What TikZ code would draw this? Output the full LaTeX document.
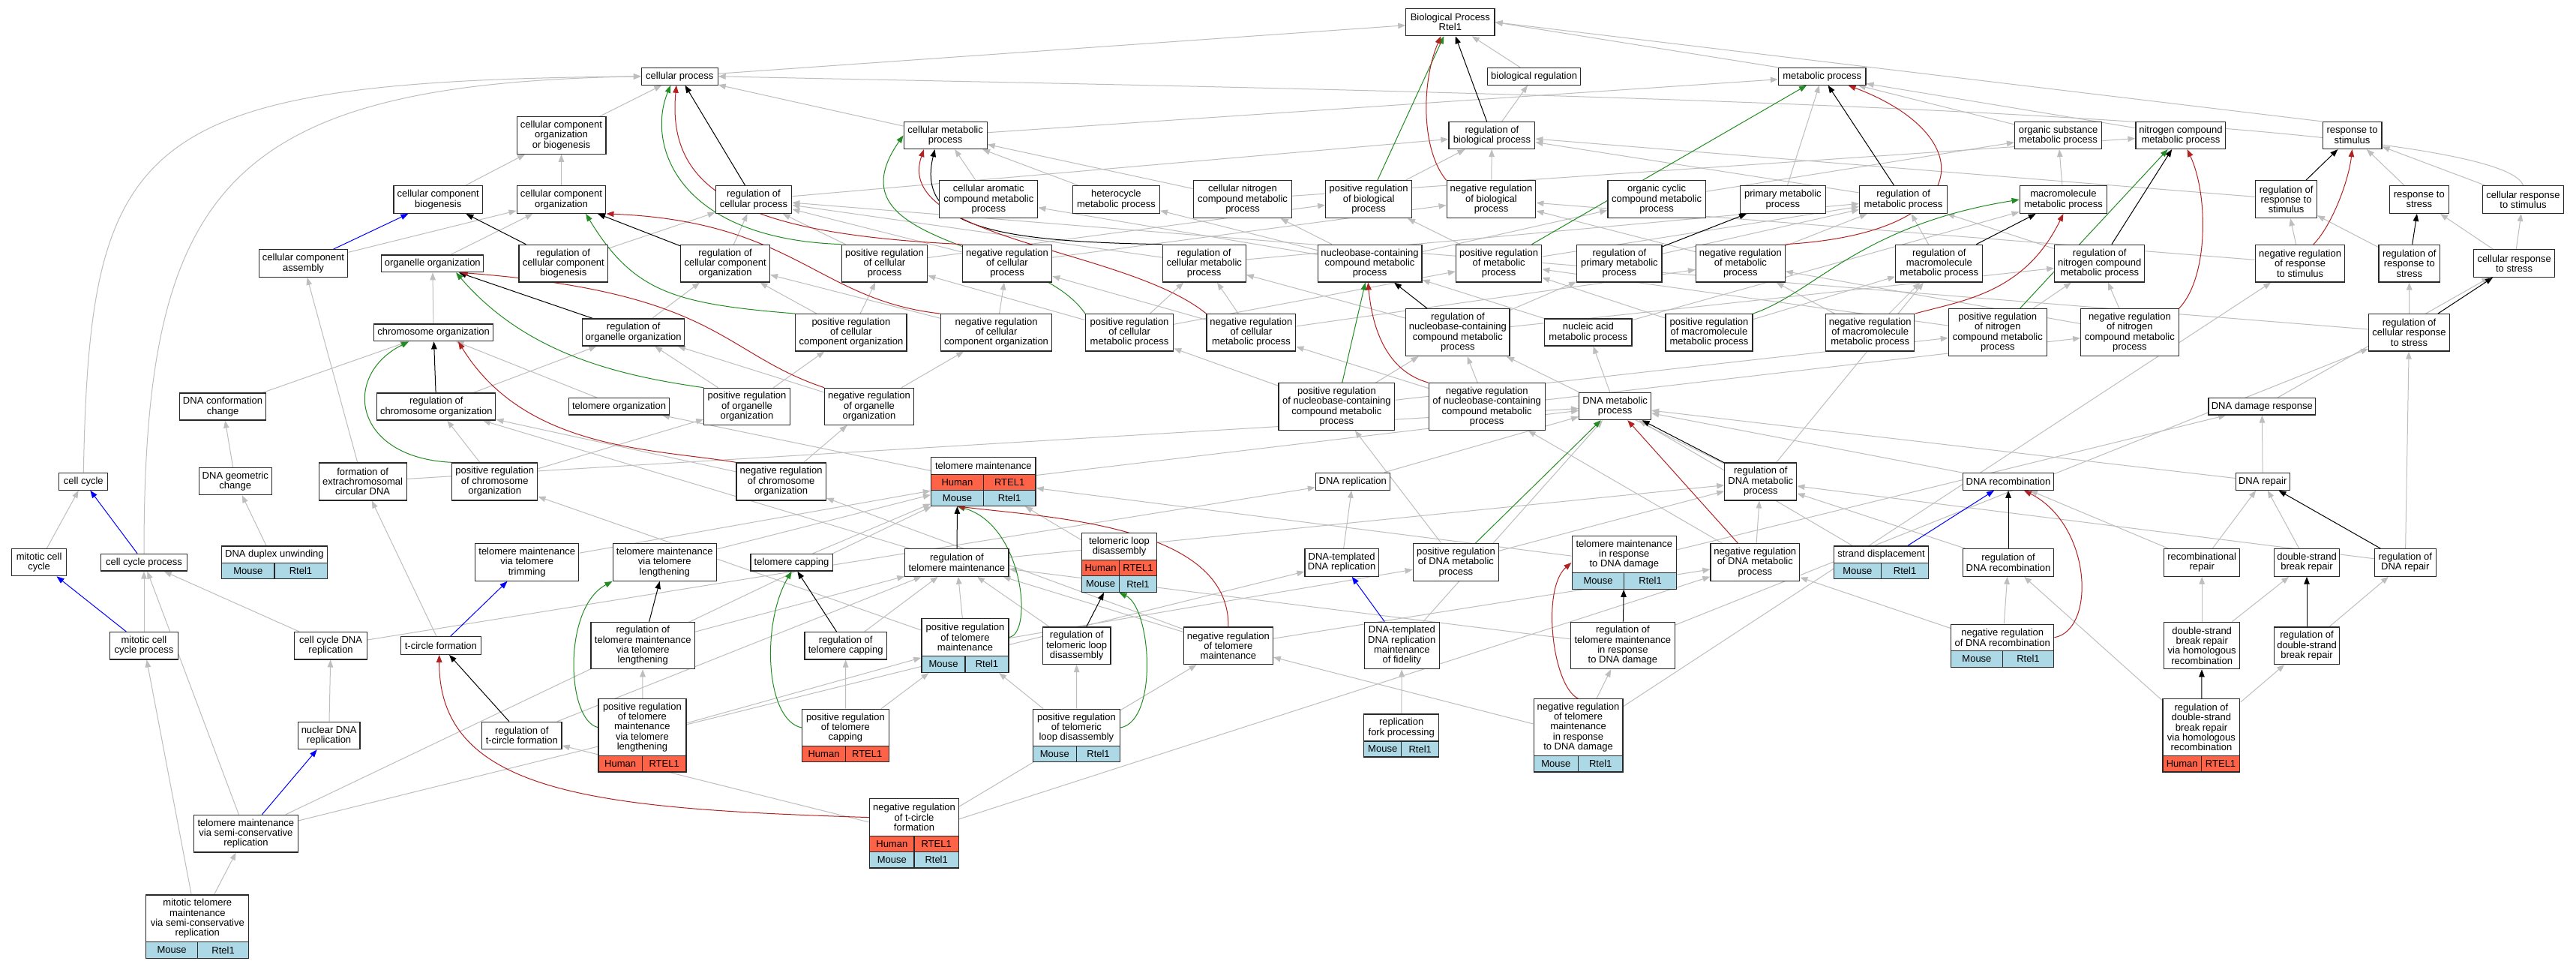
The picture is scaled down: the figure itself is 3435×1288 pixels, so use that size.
\documentclass[tikz,border=0pt]{standalone}
\usepackage{fontspec}
\setmainfont{Liberation Sans}
\usetikzlibrary{arrows.meta,fit,backgrounds}
\definecolor{egray}{RGB}{190,190,190}
\definecolor{egreen}{RGB}{34,139,34}
\definecolor{ered}{RGB}{178,34,34}
\definecolor{hcol}{RGB}{255,99,71}
\definecolor{mcol}{RGB}{173,216,230}
\definecolor{bord}{RGB}{40,40,40}
\newcommand\gfont{\fontsize{13}{13.3}\selectfont}
\newcommand\GN[6]{\node[gbox,minimum width=#4pt,minimum height=#5pt] (#1) at (#2,#3) {#6};}
\newcommand\TT[6]{\pgfmathsetmacro\myY{(#3+#4)/2}\pgfmathsetmacro\myH{#4-#3}\node[gbox,minimum width=#5pt,minimum height=\myH pt] (#1t) at (#2,\myY) {#6};}
\newcommand\RW[9]{\pgfmathsetmacro\myY{(#3+#4)/2}\pgfmathsetmacro\myH{#4-#3}\pgfmathsetmacro\myW{#5/2}\pgfmathsetmacro\myL{#2-#5/4}\pgfmathsetmacro\myR{#2+#5/4}%
\node[gcell,fill=#6,minimum width=\myW pt,minimum height=\myH pt] (#1#71) at (\myL,\myY) {#8};%
\node[gcell,fill=#6,minimum width=\myW pt,minimum height=\myH pt] (#1#72) at (\myR,\myY) {#9};}
\newcommand\HR[5]{\RW{#1}{#2}{#3}{#4}{#5}{hcol}{h}{Human}{RTEL1}}
\newcommand\MR[5]{\RW{#1}{#2}{#3}{#4}{#5}{mcol}{m}{Mouse}{Rtel1}}
\newcommand\FT[2]{\node[fit=(#1t)(#2),inner sep=0pt] (#1) {};}
\begin{document}
\begin{tikzpicture}[x=1pt,y=-1pt,
 gbox/.style={draw=bord,line width=1.2pt,fill=white,align=center,inner sep=0pt,font=\gfont},
 gcell/.style={draw=bord,line width=1.2pt,align=center,inner sep=0pt,font=\gfont},
 atip/.style={-{Triangle[length=10pt,width=7.5pt]}},
 eg/.style={draw=egray,line width=1pt,atip},
 ek/.style={draw=black,line width=1pt,atip},
 egn/.style={draw=egreen,line width=1pt,atip},
 er/.style={draw=ered,line width=1pt,atip},
 eb/.style={draw=blue,line width=1pt,atip}]
\useasboundingbox (0,0) rectangle (3435,1288);
% Row A-D
\GN{bp}{1933.9}{29.6}{118.2}{36.1}{Biological Process\\Rtel1}
\GN{cp}{906.3}{101.8}{101.6}{22.8}{cellular process}
\GN{br}{2045.6}{101.8}{124.3}{22.8}{biological regulation}
\GN{mp}{2429.7}{101.8}{116.5}{22.8}{metabolic process}
\GN{ccob}{748.5}{180.5}{118.8}{49.3}{cellular component\\organization\\or biogenesis}
\GN{cmp}{1260.6}{180.5}{111}{36}{cellular metabolic\\process}
\GN{rbp}{1989.4}{180.5}{114.9}{36}{regulation of\\biological process}
\GN{osmp}{2744.5}{180.5}{116}{36}{organic substance\\metabolic process}
\GN{ncmp}{2907.9}{180.5}{119.8}{36}{nitrogen compound\\metabolic process}
\GN{rs}{3136.5}{180.5}{78.8}{36}{response to\\stimulus}
\GN{ccb}{584.3}{266.1}{118.7}{36.5}{cellular component\\biogenesis}
\GN{cco}{748.5}{266.1}{118.7}{36.5}{cellular component\\organization}
\GN{rcp}{1005}{266.1}{101.5}{36.5}{regulation of\\cellular process}
\GN{cacmp}{1318.3}{265.7}{131}{49.8}{cellular aromatic\\compound metabolic\\process}
\GN{hmp}{1488.4}{266.1}{116}{36.5}{heterocycle\\metabolic process}
\GN{cncmp}{1657}{265.7}{130.4}{49.8}{cellular nitrogen\\compound metabolic\\process}
\GN{prbp}{1825.1}{265.7}{114.8}{49.8}{positive regulation\\of biological\\process}
\GN{nrbp}{1988.5}{265.7}{118.7}{49.8}{negative regulation\\of biological\\process}
\GN{occmp}{2209.1}{265.7}{130.4}{49.8}{organic cyclic\\compound metabolic\\process}
\GN{pmp}{2377.4}{266.1}{114.3}{36.5}{primary metabolic\\process}
\GN{rmp}{2538.1}{266.1}{117}{36.5}{regulation of\\metabolic process}
\GN{mmp}{2751.4}{266.1}{116.5}{36.5}{macromolecule\\metabolic process}
\GN{rrs}{3048.6}{265.7}{81.5}{49.8}{regulation of\\response to\\stimulus}
\GN{rstr}{3225.8}{266.1}{78.8}{36.5}{response to\\stress}
\GN{crs}{3364.5}{266.1}{107.6}{36.5}{cellular response\\to stimulus}
% Row E
\GN{cca}{404.5}{351.1}{118.7}{36.5}{cellular component\\assembly}
\GN{oo}{576.8}{351.3}{135.9}{22.8}{organelle organization}
\GN{rccb}{751.3}{351.1}{118.7}{49.7}{regulation of\\cellular component\\biogenesis}
\GN{rcco}{967.1}{351.1}{118.7}{49.7}{regulation of\\cellular component\\organization}
\GN{prcp}{1179.5}{351.1}{114.3}{49.7}{positive regulation\\of cellular\\process}
\GN{nrcp}{1343}{351.1}{119.3}{49.7}{negative regulation\\of cellular\\process}
\GN{rcmp}{1605.7}{351.1}{111}{49.7}{regulation of\\cellular metabolic\\process}
\GN{nbcmp}{1826.5}{351.1}{138.8}{49.7}{nucleobase-containing\\compound metabolic\\process}
\GN{prmp}{1998.6}{351.1}{114.3}{49.7}{positive regulation\\of metabolic\\process}
\GN{rpmp}{2159.4}{351.1}{113.2}{49.7}{regulation of\\primary metabolic\\process}
\GN{nrmp}{2320.9}{351.1}{118.7}{49.7}{negative regulation\\of metabolic\\process}
\GN{rmmp}{2585.8}{351.1}{116}{49.7}{regulation of\\macromolecule\\metabolic process}
\GN{rncmp}{2799.7}{351.1}{119.8}{49.7}{regulation of\\nitrogen compound\\metabolic process}
\GN{nrrs}{3067.1}{351.1}{118.7}{49.7}{negative regulation\\of response\\to stimulus}
\GN{rrstr}{3212.8}{351.1}{81.6}{49.7}{regulation of\\response to\\stress}
\GN{crstr}{3352.6}{351.1}{108.2}{36.5}{cellular response\\to stress}
% Row F
\GN{co}{578.1}{443.4}{158.7}{22.8}{chromosome organization}
\GN{roo}{844.7}{443}{135.9}{36}{regulation of\\organelle organization}
\GN{prcco}{1134.9}{443.3}{148.2}{49.3}{positive regulation\\of cellular\\component organization}
\GN{nrcco}{1328.6}{443.3}{148.1}{49.3}{negative regulation\\of cellular\\component organization}
\GN{prcmp}{1506.1}{443.3}{117}{49.3}{positive regulation\\of cellular\\metabolic process}
\GN{nrcmp}{1668.4}{443.3}{118.7}{49.3}{negative regulation\\of cellular\\metabolic process}
\GN{rnbcmp}{1943.9}{443.1}{138.1}{63}{regulation of\\nucleobase-containing\\compound metabolic\\process}
\GN{namp}{2117.8}{443}{116.5}{36}{nucleic acid\\metabolic process}
\GN{prmmp}{2279}{443.3}{116}{49.3}{positive regulation\\of macromolecule\\metabolic process}
\GN{nrmmp}{2493.7}{443.3}{118.2}{49.3}{negative regulation\\of macromolecule\\metabolic process}
\GN{prncmp}{2663.8}{443.1}{130.9}{63}{positive regulation\\of nitrogen\\compound metabolic\\process}
\GN{nrncmp}{2839.9}{443.1}{130.4}{63}{negative regulation\\of nitrogen\\compound metabolic\\process}
\GN{rcrstr}{3212.5}{443.3}{107.6}{49.3}{regulation of\\cellular response\\to stress}
% Row G
\GN{dcc}{297.1}{542}{114.8}{36}{DNA conformation\\change}
\GN{rco}{581.8}{542}{158.1}{36}{regulation of\\chromosome organization}
\GN{telo}{825.6}{541.8}{134.2}{22.4}{telomere organization}
\GN{proo}{996}{541.8}{114.3}{49}{positive regulation\\of organelle\\organization}
\GN{nroo}{1159}{541.8}{118.7}{49}{negative regulation\\of organelle\\organization}
\GN{prnbcmp}{1782.4}{542}{154.8}{62.6}{positive regulation\\of nucleobase-containing\\compound metabolic\\process}
\GN{nrnbcmp}{1982.7}{542}{154.8}{62.6}{negative regulation\\of nucleobase-containing\\compound metabolic\\process}
\GN{dmp}{2153.6}{541.6}{96}{36}{DNA metabolic\\process}
\GN{ddr}{3016.3}{541.8}{142.6}{22.4}{DNA damage response}
% Row H
\GN{cc}{111.3}{641.7}{65}{23}{cell cycle}
\GN{dgc}{313.8}{641.6}{97}{36}{DNA geometric\\change}
\GN{fecd}{483.6}{641.9}{117}{50}{formation of\\extrachromosomal\\circular DNA}
\GN{prco}{659.7}{641.9}{114.3}{50}{positive regulation\\of chromosome\\organization}
\GN{nrco}{1041.6}{641.9}{119.3}{50}{negative regulation\\of chromosome\\organization}
\TT{tm}{1311.3}{609.4}{632.2}{139.3}{telomere maintenance}\HR{tm}{1311.3}{632.2}{653.2}{139.3}\MR{tm}{1311.3}{653.2}{674.3}{139.3}\FT{tm}{tmm2}
\GN{drep}{1803.8}{641.7}{98.8}{23}{DNA replication}
\GN{rdmp}{2347.8}{641.9}{96}{50}{regulation of\\DNA metabolic\\process}
\GN{drec}{2678}{641.7}{121.5}{23}{DNA recombination}
\GN{drp}{3017.2}{641.7}{72.2}{23}{DNA repair}
% Row I
\GN{mcc}{52.1}{749.7}{73.3}{36}{mitotic cell\\cycle}
\GN{ccp}{192}{749.7}{114.3}{22.7}{cell cycle process}
\TT{ddu}{365.9}{728}{750.3}{140.4}{DNA duplex unwinding}\MR{ddu}{365.9}{750.3}{771.8}{140.4}\FT{ddu}{ddum2}
\GN{tmtt}{702.7}{749.5}{138.2}{49.6}{telomere maintenance\\via telomere\\trimming}
\GN{tmtl}{886.3}{749.5}{138.1}{49.6}{telomere maintenance\\via telomere\\lengthening}
\GN{tc}{1055.6}{749.7}{109.3}{22.7}{telomere capping}
\GN{rtm}{1275.9}{749.9}{138.1}{36.4}{regulation of\\telomere maintenance}
\TT{tld}{1492.5}{710.7}{746.6}{99.9}{telomeric loop\\disassembly}\HR{tld}{1492.5}{746.6}{767.7}{99.9}\MR{tld}{1492.5}{767.7}{789.2}{99.9}\FT{tld}{tldm2}
\GN{ddrep}{1789.1}{749.9}{98.2}{36.4}{DNA-templated\\DNA replication}
\GN{prdmp}{1941.4}{749.5}{114.3}{49.6}{positive regulation\\of DNA metabolic\\process}
\TT{tmrdd}{2165.8}{714.8}{763.2}{139.2}{telomere maintenance\\in response\\to DNA damage}\MR{tmrdd}{2165.8}{763.2}{785.1}{139.2}\FT{tmrdd}{tmrddm2}
\GN{nrdmp}{2340.3}{749.5}{118.7}{49.6}{negative regulation\\of DNA metabolic\\process}
\TT{sd}{2508.5}{728}{750.3}{126.5}{strand displacement}\MR{sd}{2508.5}{750.3}{771.8}{126.5}\FT{sd}{sdm2}
\GN{rdrec}{2678}{749.9}{121.5}{36.4}{regulation of\\DNA recombination}
\GN{rrep}{2936.2}{749.9}{101}{36.4}{recombinational\\repair}
\GN{dsbr}{3076}{749.9}{87.7}{36.4}{double-strand\\break repair}
\GN{rdrp}{3207.3}{749.9}{81.6}{36.4}{regulation of\\DNA repair}
% Row J
\GN{mccp}{192}{860.7}{91}{36.4}{mitotic cell\\cycle process}
\GN{ccdr}{441.1}{860.7}{96.6}{36.4}{cell cycle DNA\\replication}
\GN{tcf}{587.9}{860.5}{107.1}{23.5}{t-circle formation}
\GN{rtmtl}{857.3}{860.5}{138.7}{62.4}{regulation of\\telomere maintenance\\via telomere\\lengthening}
\GN{rtc}{1127.7}{860.7}{109.4}{36.4}{regulation of\\telomere capping}
\TT{prtm}{1287}{824.7}{874.3}{115.9}{positive regulation\\of telomere\\maintenance}\MR{prtm}{1287}{874.3}{896.2}{115.9}\FT{prtm}{prtmm2}
\GN{rtld}{1435.7}{860.7}{90.5}{49.6}{regulation of\\telomeric loop\\disassembly}
\GN{nrtm}{1637.9}{860.7}{118.7}{49.6}{negative regulation\\of telomere\\maintenance}
\GN{ddrmf}{1869.3}{860.5}{99.9}{62.4}{DNA-templated\\DNA replication\\maintenance\\of fidelity}
\GN{rtmrdd}{2163.9}{860.5}{138.7}{62.4}{regulation of\\telomere maintenance\\in response\\to DNA damage}
\TT{nrdrec}{2670.2}{832.2}{867.3}{137.1}{negative regulation\\of DNA recombination}\MR{nrdrec}{2670.2}{867.3}{889.2}{137.1}\FT{nrdrec}{nrdrecm2}
\GN{dsbhr}{2936.2}{860.5}{101}{62.4}{double-strand\\break repair\\via homologous\\recombination}
\GN{rdsbr}{3076}{860.7}{87.6}{49.6}{regulation of\\double-strand\\break repair}
% Row K
\GN{ndr}{438.6}{980.5}{82.6}{36.4}{nuclear DNA\\replication}
\GN{rtcf}{695.8}{980.5}{106.5}{36.4}{regulation of\\t-circle formation}
\TT{prtmtl}{856.4}{931.8}{1007.4}{117}{positive regulation\\of telomere\\maintenance\\via telomere\\lengthening}\HR{prtmtl}{856.4}{1007.4}{1028.9}{117}\FT{prtmtl}{prtmtlh2}
\TT{prtc}{1127.4}{945.4}{994.6}{115.4}{positive regulation\\of telomere\\capping}\HR{prtc}{1127.4}{994.6}{1015.6}{115.4}\FT{prtc}{prtch2}
\TT{prtld}{1435.4}{945.4}{994.6}{116.5}{positive regulation\\of telomeric\\loop disassembly}\MR{prtld}{1435.4}{994.6}{1015.6}{116.5}\FT{prtld}{prtldm2}
\TT{rfp}{1868.7}{952}{988}{99.9}{replication\\fork processing}\MR{rfp}{1868.7}{988}{1009}{99.9}\FT{rfp}{rfpm2}
\TT{nrtmrdd}{2104.5}{931.8}{1007.4}{118.8}{negative regulation\\of telomere\\maintenance\\in response\\to DNA damage}\MR{nrtmrdd}{2104.5}{1007.4}{1028.9}{118.8}\FT{nrtmrdd}{nrtmrddm2}
\TT{rdsbhr}{2935.4}{931.8}{1007.4}{102.7}{regulation of\\double-strand\\break repair\\via homologous\\recombination}\HR{rdsbhr}{2935.4}{1007.4}{1028.9}{102.7}\FT{rdsbhr}{rdsbhrh2}
% Row L, M
\GN{tmsc}{327.9}{1111.1}{138.7}{49.6}{telomere maintenance\\via semi-conservative\\replication}
\TT{nrtcf}{1219}{1064.8}{1114.4}{118.7}{negative regulation\\of t-circle\\formation}\HR{nrtcf}{1219}{1114.4}{1135.5}{118.7}\MR{nrtcf}{1219}{1135.5}{1157}{118.7}\FT{nrtcf}{nrtcfm2}
\TT{mtm}{263.3}{1192.9}{1255.8}{137.1}{mitotic telomere\\maintenance\\via semi-conservative\\replication}\MR{mtm}{263.3}{1255.8}{1277.2}{137.1}\FT{mtm}{mtmm2}

\begin{pgfonlayer}{background}
\fill[white] (0,0) rectangle (3435,1288);
% gray is_a edges
\foreach \a/\b in {cp/bp, br/bp, rbp/br, prbp/rbp, nrbp/rbp, ccob/cp, cmp/cp, cmp/mp, pmp/mp, osmp/mp, ncmp/mp,
 ccb/ccob, cco/ccob, cca/cco, oo/cco, rcp/rbp, rmp/rbp, rrs/rbp, prcp/rcp, prcp/prbp, nrcp/rcp, nrcp/nrbp,
 rcco/rcp, rccb/rcp, rcmp/rcp, rcmp/rmp, cacmp/cmp, hmp/cmp, cncmp/cmp, cncmp/ncmp, occmp/osmp, mmp/osmp,
 rpmp/rmp, rmmp/rmp, rncmp/rmp, prmp/rmp, nrmp/rmp, prmp/prbp, nrmp/nrbp, nrrs/rrs, nrrs/nrbp, rrstr/rrs,
 rstr/rs, crs/rs, crstr/rstr, crstr/crs, rcrstr/rrstr, rcrstr/rcp, co/oo, rco/roo, roo/rcco, telo/co, dcc/co,
 prco/rco, nrco/rco, prco/proo, nrco/nroo, proo/roo, nroo/roo, proo/prcco, nroo/nrcco, prcco/rcco, nrcco/rcco,
 prcco/prcp, nrcco/nrcp, prcmp/rcmp, nrcmp/rcmp, prcmp/prcp, nrcmp/nrcp, prcmp/prmp, nrcmp/nrmp,
 nbcmp/cacmp, nbcmp/hmp, nbcmp/occmp, nbcmp/cncmp, namp/nbcmp, namp/mmp, rnbcmp/rpmp, rnbcmp/rcmp,
 rnbcmp/rncmp, prnbcmp/rnbcmp, prnbcmp/prcmp, prnbcmp/prncmp, nrnbcmp/rnbcmp, nrnbcmp/nrcmp, nrnbcmp/nrncmp,
 prmmp/rmmp, prmmp/prmp, nrmmp/rmmp, nrmmp/nrmp, prncmp/rncmp, prncmp/prmp, nrncmp/rncmp, nrncmp/nrmp,
 dmp/namp, rdmp/rnbcmp, rdmp/rmmp, prdmp/rdmp, prdmp/prnbcmp, nrdmp/rdmp, nrdmp/nrnbcmp, drep/dmp,
 ddrep/drep, drec/dmp, drp/dmp, drp/ddr, ddr/crstr, tmrdd/tm, tmrdd/ddr, tm/telo, tm/dmp, rtm/rco, rtm/rdmp,
 prtm/rtm, prtm/prco, prtm/prdmp, nrtm/rtm, nrtm/nrco, nrtm/nrdmp, tmtt/tm, tmtl/tm, tc/tm, tld/tm,
 rtmtl/rtm, prtmtl/rtmtl, prtmtl/prtm, rtc/rtm, prtc/rtc, prtc/prtm, rtld/rtm, prtld/rtld, prtld/prtm,
 tcf/fecd, rtcf/rtm, nrtcf/rtcf, nrtcf/nrtm, nrtcf/nrdmp, ccdr/ccp, ccdr/drep, ndr/ccdr, tmsc/ccp, tmsc/tm,
 tmsc/ddrep, mtm/tmsc, mtm/mccp, mccp/ccp, mcc/cc, ddu/dgc, dgc/dcc, fecd/cca, fecd/dmp, rtmrdd/rtm, rtmrdd/rcrstr,
 nrtmrdd/rtmrdd, nrtmrdd/nrtm, nrtmrdd/nrrs, ddrmf/dmp, rfp/ddrmf, rdrec/rdmp, nrdrec/rdrec, nrdrec/nrdmp,
 sd/dmp, rrep/drp, rrep/drec, dsbr/drp, rdrp/rdmp, rdrp/rcrstr, dsbhr/rrep, dsbhr/dsbr, rdsbr/rdrp,
 rdsbhr/rdsbr, rdsbhr/rdrec}
 {\draw[eg] (\a) -- (\b);}
\draw[eg] (mp.north west) -- (bp.east);
\draw[eg] (rs.north west) -- (bp.east);
\draw[eg] (crs.north) .. controls (3330,140) and (1700,118) .. (cp.east);
\draw[eg] (cc.north) .. controls (120,180) and (180,108) .. (cp.west);
\draw[eg] (ccp.north) .. controls (192,250) and (300,112) .. (cp.west);
% black regulates
\foreach \a/\b in {rbp/bp, rcp/cp, rmp/mp, rpmp/pmp, rmmp/mmp, rncmp/ncmp, rrs/rs, rrstr/rstr,
 rcrstr/crstr, rnbcmp/nbcmp, rdmp/dmp, rdrec/drec, rdrp/drp, rdsbr/dsbr, rdsbhr/dsbhr, rccb/ccb, rcco/cco,
 roo/oo, rco/co, rtc/tc, rtld/tld, rtmtl/tmtl, rtcf/tcf, rtmrdd/tmrdd}
 {\draw[ek] (\a) -- (\b);}
\draw[ek] (rtm) -- (tmm1.south);
\draw[ek] (rcmp.north west) .. controls (1320,322) and (1222,300) .. (cmp.-127);
% green positively regulates
\foreach \a/\b in {prbp/bp, prmp/mp, prncmp/ncmp, prnbcmp/nbcmp, prdmp/dmp}
 {\draw[egn] (\a) -- (\b);}
\draw[egn] (prcp.north west) .. controls (900,318) and (862,190) .. (cp.-135);
\draw[egn] (prtmt.east) .. controls (1378,845) and (1365,700) .. (tmm1.south);
\draw[egn] (prtldt.east) .. controls (1545,960) and (1535,810) .. (tld.south);
\draw[egn] (prtct.west) .. controls (1020,960) and (1015,830) .. (tc.south);
\draw[egn] (prtmtlt.west) .. controls (755,960) and (750,810) .. (tmtl.south west);
\draw[egn] (prco.north west) .. controls (470,610) and (455,500) .. (co.200);
\draw[egn] (prcco.north west) .. controls (900,405) and (845,390) .. (cco.-30);
\draw[egn] (proo.north west) .. controls (820,500) and (700,470) .. (oo.-21);
\draw[egn] (prcmp.north west) .. controls (1380,320) and (1100,330) .. (cmp.west);
\draw[egn] (prmmp.north east) .. controls (2420,390) and (2480,300) .. (mmp.west);
% red negatively regulates
\foreach \a/\b in {nrdmp/dmp}
 {\draw[er] (\a) -- (\b);}
\draw[er] (nrcp.north west) .. controls (1000,312) and (888,260) .. (cp.-110);
\draw[er] (nrcmp.north west) .. controls (1500,330) and (1190,320) .. (cmp.-147);
\draw[er] (nrcco.north west) .. controls (1090,400) and (1060,295) .. (cco.south east);
\draw[er] (nrtm.north) .. controls (1640,700) and (1400,690) .. (tmm1.south);
\draw[er] (nrco.north west) .. controls (870,598) and (700,600) .. (co.-20);
\draw[er] (nroo.north west) .. controls (960,470) and (960,390) .. (oo.-18);
\draw[er] (nrbp.north west) .. controls (1895,200) and (1895,110) .. (bp.-124);
\draw[er] (nrmp.north east) .. controls (2640,310) and (2640,180) .. (mp.-19);
\draw[er] (nrmmp.north east) .. controls (2620,400) and (2700,390) .. (mmp.south);
\draw[er] (nrncmp.north east) .. controls (2945,370) and (2945,260) .. (ncmp.-65);
\draw[er] (nrrs.55) .. controls (3110,300) and (3132,240) .. (rs.south);
\draw[er] (nrnbcmp.north west) .. controls (1850,495) and (1830,440) .. (nbcmp.-95);
\draw[er] (nrdrect.east) .. controls (2795,840) and (2790,700) .. (drec.-30);
\draw[er] (nrtmrddt.north) .. controls (2070,915) and (2055,785) .. (tmrdd.west);
\draw[er] (nrtcft.west) .. controls (800,1078) and (585,1060) .. (tcf.-100);
% blue part_of
\foreach \a/\b in {cca/ccb, ccp/cc, mccp/mcc, tmsc/ndr, tcf/tmtt, ddrmf/ddrep, sd/drec}
 {\draw[eb] (\a) -- (\b);}
\end{pgfonlayer}
\end{tikzpicture}
\end{document}
